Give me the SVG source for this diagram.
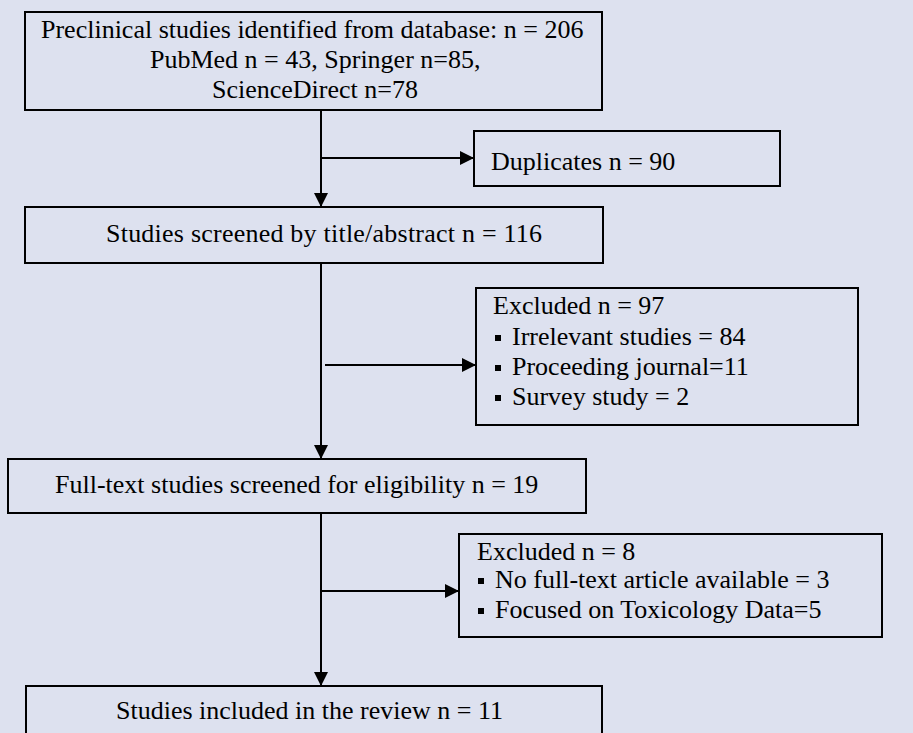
<svg xmlns="http://www.w3.org/2000/svg" width="913" height="733" viewBox="0 0 913 733">
<defs>
<marker id="ah" viewBox="0 0 14 14" markerWidth="14" markerHeight="14" refX="13" refY="7" orient="auto" markerUnits="userSpaceOnUse">
<path d="M0,0 L14,7 L0,14 Z" fill="#000"/>
</marker>
<style>
.box{fill:none;stroke:#000;stroke-width:2}
.t{font-family:"Liberation Serif","Times New Roman",serif;font-size:26px;fill:#000}
.ln{stroke:#000;stroke-width:2;fill:none}
.b{fill:#000}
</style>
</defs>
<rect width="913" height="733" fill="#DDE1EF"/>
<g id="connectors">
<line class="ln" x1="321" y1="111" x2="321" y2="206" marker-end="url(#ah)"/>
<line class="ln" x1="321" y1="158" x2="473" y2="158" marker-end="url(#ah)"/>
<line class="ln" x1="321" y1="263" x2="321" y2="458" marker-end="url(#ah)"/>
<line class="ln" x1="325" y1="365" x2="475" y2="365" marker-end="url(#ah)"/>
<line class="ln" x1="321" y1="513" x2="321" y2="685" marker-end="url(#ah)"/>
<line class="ln" x1="321" y1="591" x2="458" y2="591" marker-end="url(#ah)"/>
</g>
<g id="identified">
<rect class="box" x="25" y="12" width="577" height="98"/>
<text class="t" x="41" y="38">Preclinical studies identified from database: n = 206</text>
<text class="t" x="150" y="68">PubMed n = 43, Springer n=85,</text>
<text class="t" x="212" y="98">ScienceDirect n=78</text>
</g>
<g id="duplicates">
<rect class="box" x="474" y="131" width="306" height="55"/>
<text class="t" x="491" y="170">Duplicates n = 90</text>
</g>
<g id="screened">
<rect class="box" x="25" y="207" width="578" height="56"/>
<text class="t" x="106" y="242" textLength="436" lengthAdjust="spacing">Studies screened by title/abstract n = 116</text>
</g>
<g id="excluded1">
<rect class="box" x="476" y="288" width="382" height="137"/>
<text class="t" x="493" y="314">Excluded n = 97</text>
<rect class="b" x="495" y="335" width="6" height="6"/>
<text class="t" x="512" y="345">Irrelevant studies = 84</text>
<rect class="b" x="495" y="365" width="6" height="6"/>
<text class="t" x="512" y="375">Proceeding journal=11</text>
<rect class="b" x="495" y="395" width="6" height="6"/>
<text class="t" x="512" y="405">Survey study = 2</text>
</g>
<g id="fulltext">
<rect class="box" x="8" y="459" width="578" height="54"/>
<text class="t" x="55" y="493">Full-text studies screened for eligibility n = 19</text>
</g>
<g id="excluded2">
<rect class="box" x="459" y="534" width="423" height="103"/>
<text class="t" x="477" y="560">Excluded n = 8</text>
<rect class="b" x="478" y="578" width="6" height="6"/>
<text class="t" x="495" y="588">No full-text article available = 3</text>
<rect class="b" x="478" y="608" width="6" height="6"/>
<text class="t" x="495" y="618">Focused on Toxicology Data=5</text>
</g>
<g id="included">
<rect class="box" x="26" y="686" width="576" height="60"/>
<text class="t" x="116" y="719">Studies included in the review n = 11</text>
</g>
</svg>
